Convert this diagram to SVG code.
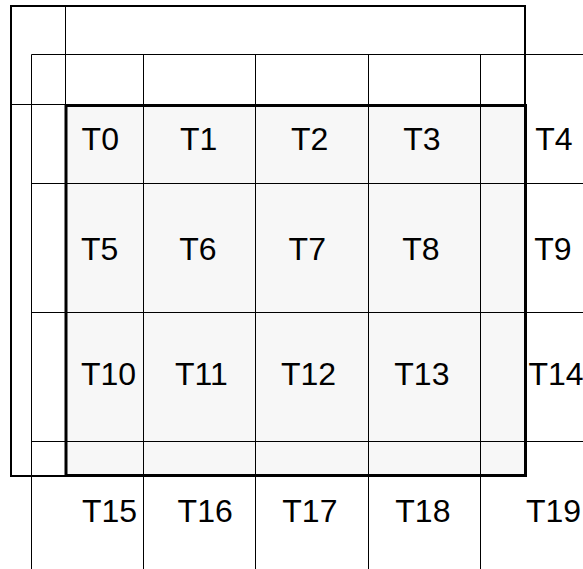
<svg xmlns="http://www.w3.org/2000/svg" width="583" height="569" viewBox="0 0 583 569">
<style>
.thin{stroke:#000;stroke-width:1;fill:none}
.lbl{font-family:"Liberation Sans",Arial,sans-serif;font-size:32px;fill:#000}
</style>
<rect width="583" height="569" fill="#fff"/>
<g id="region">
<rect x="66" y="105.5" width="459.5" height="370" fill="#f7f7f7"/>
</g>
<g id="connectors" class="thin">
<line x1="31.5" y1="54.5" x2="583" y2="54.5"/>
<line x1="11" y1="104.5" x2="66" y2="104.5"/>
<line x1="31.5" y1="183.5" x2="583" y2="183.5"/>
<line x1="31.5" y1="312.5" x2="583" y2="312.5"/>
<line x1="31.5" y1="441.5" x2="583" y2="441.5"/>
<line x1="31.5" y1="54.5" x2="31.5" y2="569"/>
<line x1="65.5" y1="6" x2="65.5" y2="106"/>
<line x1="143.5" y1="54.5" x2="143.5" y2="569"/>
<line x1="255.5" y1="54.5" x2="255.5" y2="569"/>
<line x1="368.5" y1="54.5" x2="368.5" y2="569"/>
<line x1="480.5" y1="54.5" x2="480.5" y2="569"/>
</g>
<g id="outer">
<rect x="11" y="6" width="514" height="470" fill="none" stroke="#000" stroke-width="2"/>
</g>
<g id="inner">
<rect x="66" y="105.5" width="459.5" height="370" fill="none" stroke="#000" stroke-width="3"/>
</g>
<g id="T0"><text class="lbl" x="81.6" y="149.5">T0</text></g>
<g id="T1"><text class="lbl" x="180" y="149.5">T1</text></g>
<g id="T2"><text class="lbl" x="291" y="149.5">T2</text></g>
<g id="T3"><text class="lbl" x="403.3" y="149.5">T3</text></g>
<g id="T4"><text class="lbl" x="535.3" y="149.5">T4</text></g>
<g id="T5"><text class="lbl" x="81" y="260">T5</text></g>
<g id="T6"><text class="lbl" x="179.3" y="260">T6</text></g>
<g id="T7"><text class="lbl" x="288.6" y="260">T7</text></g>
<g id="T8"><text class="lbl" x="402.3" y="260">T8</text></g>
<g id="T9"><text class="lbl" x="534.3" y="260">T9</text></g>
<g id="T10"><text class="lbl" x="81" y="385">T10</text></g>
<g id="T11"><text class="lbl" x="175" y="385">T11</text></g>
<g id="T12"><text class="lbl" x="281" y="385">T12</text></g>
<g id="T13"><text class="lbl" x="394.3" y="385">T13</text></g>
<g id="T14"><text class="lbl" x="528.5" y="385">T14</text></g>
<g id="T15"><text class="lbl" x="82" y="522">T15</text></g>
<g id="T16"><text class="lbl" x="177.6" y="522">T16</text></g>
<g id="T17"><text class="lbl" x="282.3" y="522">T17</text></g>
<g id="T18"><text class="lbl" x="395.3" y="522">T18</text></g>
<g id="T19"><text class="lbl" x="526" y="522">T19</text></g>
</svg>
